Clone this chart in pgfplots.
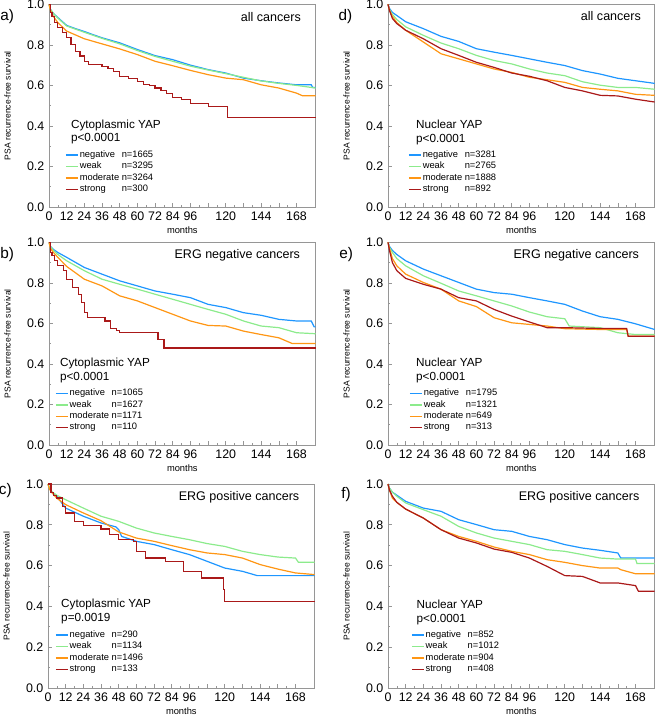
\documentclass[border=0pt]{standalone}
\usepackage{fontspec}
\setmainfont{Liberation Sans}
\usepackage{pgfplots}
\pgfplotsset{compat=1.18}
\definecolor{kmblue}{RGB}{30,150,255}
\definecolor{kmgreen}{RGB}{140,235,140}
\definecolor{kmorange}{RGB}{255,150,20}
\definecolor{kmred}{RGB}{170,25,25}
\definecolor{axgray}{RGB}{150,150,150}
\pgfplotsset{
  kmaxis/.style={
    scale only axis, width=200pt, height=152pt,
    xmin=0, xmax=181, ymin=0, ymax=1,
    axis line style={axgray, line width=0.6pt},
    xtick={0,12,...,168},
    xticklabels={0,12,24,36,48,60,72,84,96,,120,,144,,168},
    minor x tick num=1, minor y tick num=1,
    ytick={0,0.2,...,1.0},
    xtick pos=bottom, ytick pos=left,
    tick align=inside,
    major tick length=3pt, minor tick length=1.8pt,
    every tick/.style={axgray, line width=0.5pt},
    /pgf/number format/assume math mode=true,
    tick label style={font=\fontsize{9.3}{10}\selectfont, black},
    yticklabel style={/pgf/number format/.cd, fixed, fixed zerofill, precision=1},
    xlabel={months}, ylabel={PSA recurrence-free survival},
    xlabel style={at={(axis description cs:0.5,-0.115)}, anchor=center, font=\fontsize{7}{7}\selectfont},
    ylabel style={at={(axis description cs:-0.155,0.5)}, anchor=center, font=\fontsize{6.4}{7}\selectfont},
    clip=false,
    legend cell align=left,
    legend image code/.code={\draw[##1, line width=1pt] (0pt,0pt) -- (9pt,0pt);},
    legend style={draw=none, fill=none, inner sep=0pt, row sep=0.2pt, anchor=north west,
      font=\fontsize{7}{8}\selectfont, nodes={inner sep=0.9pt}},
    every axis plot/.append style={line width=0.9pt},
  },
}
\tikzset{
  lbl/.style={font=\fontsize{8.8}{10}\selectfont, align=left, anchor=west},
  grp/.style={font=\fontsize{9.4}{10}\selectfont, anchor=east},
  pan/.style={font=\fontsize{11.5}{12}\selectfont, anchor=center},
}
\newcommand{\lab}[2]{\makebox[31.5pt][l]{#1}#2}
\begin{document}
\begin{tikzpicture}
\path[use as bounding box] (0,0) rectangle (493.5pt,-536.25pt);
% ---------------- a
\begin{axis}[kmaxis, at={(36.75pt,-155.25pt)}, anchor=south west,
  legend style={at={(axis description cs:0.06,0.285)}}]
\addplot[kmblue] coordinates {(0,1)(1,0.975)(3,0.955)(6,0.935)(12,0.896)(18,0.88)(24,0.866)(30,0.85)(36,0.835)(48,0.81)(60,0.777)(72,0.747)(84,0.727)(96,0.70)(108,0.678)(120,0.661)(132,0.636)(144,0.623)(156,0.612)(168,0.603)(178,0.603)(179,0.59)(181,0.59)};
\addplot[kmgreen] coordinates {(0,1)(1,0.975)(3,0.955)(6,0.932)(12,0.893)(24,0.862)(36,0.832)(48,0.805)(60,0.772)(72,0.743)(84,0.719)(96,0.695)(108,0.676)(120,0.658)(132,0.64)(144,0.622)(156,0.61)(168,0.6)(181,0.587)};
\addplot[kmorange] coordinates {(0,1)(1,0.97)(3,0.94)(6,0.91)(12,0.868)(24,0.83)(36,0.805)(48,0.78)(60,0.752)(72,0.719)(84,0.697)(96,0.674)(108,0.653)(120,0.636)(132,0.628)(144,0.603)(156,0.587)(168,0.562)(172,0.549)(181,0.549)};
\addplot[kmred, const plot] coordinates {(0,1)(1,0.96)(2,0.94)(4,0.91)(6,0.884)(9,0.86)(12,0.835)(15,0.8)(18,0.769)(21,0.745)(24,0.719)(27,0.702)(36,0.694)(40,0.685)(44,0.67)(48,0.645)(54,0.633)(60,0.62)(64,0.605)(68,0.598)(72,0.587)(76,0.575)(80,0.562)(84,0.542)(90,0.529)(96,0.509)(108,0.496)(121,0.443)(181,0.443)};
\legend{\lab{negative}{n=1665},\lab{weak}{n=3295},\lab{moderate}{n=3264},\lab{strong}{n=300}}
\node[lbl] at (axis description cs:0.065,0.37) {Cytoplasmic YAP\\p<0.0001};
\node[grp] at (axis description cs:0.962,0.939) {all cancers};
\node[pan] at (axis description cs:-0.157,0.94) {a)};
\end{axis}
% ---------------- d
\begin{axis}[kmaxis, at={(291pt,-155.25pt)}, anchor=south west,
  legend style={at={(axis description cs:0.075,0.285)}}]
\addplot[kmblue] coordinates {(0,1)(1,0.98)(3,0.96)(6,0.945)(12,0.914)(24,0.88)(36,0.842)(48,0.817)(60,0.781)(72,0.764)(84,0.748)(96,0.731)(108,0.714)(120,0.698)(132,0.673)(144,0.656)(156,0.635)(168,0.623)(181,0.61)};
\addplot[kmgreen] coordinates {(0,1)(1,0.975)(3,0.95)(6,0.925)(12,0.889)(24,0.847)(36,0.809)(48,0.781)(60,0.748)(72,0.723)(84,0.706)(96,0.681)(108,0.661)(120,0.648)(132,0.618)(144,0.601)(156,0.59)(168,0.59)(181,0.581)};
\addplot[kmorange] coordinates {(0,1)(1,0.97)(3,0.94)(6,0.91)(12,0.872)(24,0.814)(36,0.756)(48,0.731)(60,0.706)(72,0.681)(84,0.664)(96,0.64)(108,0.628)(120,0.615)(132,0.59)(144,0.581)(156,0.573)(168,0.556)(181,0.551)};
\addplot[kmred] coordinates {(0,1)(1,0.97)(3,0.93)(6,0.905)(12,0.872)(24,0.83)(36,0.781)(48,0.748)(60,0.714)(72,0.689)(84,0.661)(96,0.645)(108,0.623)(120,0.59)(132,0.573)(144,0.551)(156,0.548)(168,0.532)(181,0.518)};
\legend{\lab{negative}{n=3281},\lab{weak}{n=2765},\lab{moderate}{n=1888},\lab{strong}{n=892}}
\node[lbl] at (axis description cs:0.088,0.367) {Nuclear YAP\\p<0.0001};
\node[grp] at (axis description cs:0.966,0.94) {all cancers};
\node[pan] at (axis description cs:-0.16,0.94) {d)};
\end{axis}
% ---------------- b
\begin{axis}[kmaxis, at={(36.75pt,-333.75pt)}, anchor=south west,
  legend style={at={(axis description cs:0.022,0.283)}}]
\addplot[kmblue] coordinates {(0,1)(1,0.98)(3,0.965)(6,0.95)(12,0.926)(24,0.876)(36,0.843)(48,0.81)(60,0.785)(72,0.76)(84,0.744)(96,0.727)(108,0.694)(120,0.678)(132,0.653)(144,0.64)(156,0.62)(168,0.612)(178,0.612)(180,0.583)(181,0.583)};
\addplot[kmgreen] coordinates {(0,1)(1,0.98)(3,0.96)(6,0.94)(12,0.909)(24,0.86)(36,0.818)(48,0.793)(60,0.769)(72,0.744)(84,0.719)(96,0.694)(108,0.669)(120,0.645)(132,0.612)(144,0.587)(156,0.579)(168,0.554)(181,0.549)};
\addplot[kmorange] coordinates {(0,1)(1,0.97)(3,0.95)(6,0.926)(12,0.881)(24,0.818)(36,0.785)(48,0.736)(60,0.711)(72,0.678)(84,0.645)(96,0.612)(108,0.59)(120,0.587)(132,0.562)(144,0.545)(156,0.529)(165,0.501)(181,0.501)};
\addplot[kmred, const plot] coordinates {(0,1)(1,0.95)(2,0.934)(4,0.91)(6,0.884)(10,0.86)(12,0.818)(16,0.777)(20,0.744)(22,0.702)(24,0.653)(26,0.628)(38,0.612)(42,0.574)(46,0.564)(48,0.554)(74,0.521)(78,0.479)(181,0.479)};
\legend{\lab{negative}{n=1065},\lab{weak}{n=1627},\lab{moderate}{n=1171},\lab{strong}{n=110}}
\node[lbl] at (axis description cs:0.024,0.367) {Cytoplasmic YAP\\p<0.0001};
\node[grp] at (axis description cs:0.959,0.934) {ERG negative cancers};
\node[pan] at (axis description cs:-0.157,0.94) {b)};
\end{axis}
% ---------------- e
\begin{axis}[kmaxis, at={(291pt,-333.75pt)}, anchor=south west,
  legend style={at={(axis description cs:0.079,0.283)}}]
\addplot[kmblue] coordinates {(0,1)(1,0.98)(3,0.96)(6,0.94)(12,0.909)(24,0.868)(36,0.835)(48,0.802)(60,0.769)(72,0.752)(84,0.744)(96,0.727)(108,0.711)(120,0.694)(132,0.661)(144,0.633)(156,0.62)(168,0.598)(181,0.57)};
\addplot[kmgreen] coordinates {(0,1)(1,0.975)(3,0.95)(6,0.92)(12,0.884)(24,0.835)(36,0.798)(48,0.76)(60,0.736)(72,0.711)(84,0.686)(96,0.656)(108,0.633)(120,0.623)(123,0.587)(144,0.579)(156,0.554)(168,0.545)(181,0.545)};
\addplot[kmorange] coordinates {(0,1)(1,0.97)(3,0.92)(6,0.884)(12,0.843)(24,0.802)(36,0.769)(48,0.711)(60,0.683)(72,0.628)(84,0.603)(96,0.595)(108,0.587)(120,0.574)(144,0.57)(162,0.57)(163,0.537)(181,0.537)};
\addplot[kmred] coordinates {(0,1)(1,0.96)(3,0.9)(6,0.86)(12,0.822)(24,0.793)(36,0.769)(48,0.727)(60,0.711)(72,0.669)(84,0.636)(96,0.607)(108,0.579)(120,0.579)(144,0.575)(162,0.575)(163,0.537)(181,0.537)};
\legend{\lab{negative}{n=1795},\lab{weak}{n=1321},\lab{moderate}{n=649},\lab{strong}{n=313}}
\node[lbl] at (axis description cs:0.088,0.367) {Nuclear YAP\\p<0.0001};
\node[grp] at (axis description cs:0.959,0.934) {ERG negative cancers};
\node[pan] at (axis description cs:-0.157,0.94) {e)};
\end{axis}
% ---------------- c
\begin{axis}[kmaxis, at={(36pt,-516pt)}, anchor=south west, height=153pt,
  legend style={at={(axis description cs:0.026,0.288)}}]
\addplot[kmblue] coordinates {(0,1)(1,0.98)(3,0.955)(6,0.94)(9,0.91)(12,0.882)(24,0.842)(36,0.809)(46,0.79)(48,0.776)(50,0.743)(60,0.719)(72,0.703)(84,0.678)(96,0.654)(108,0.621)(120,0.588)(132,0.572)(142,0.551)(181,0.551)};
\addplot[kmgreen] coordinates {(0,1)(1,0.98)(3,0.96)(6,0.945)(12,0.923)(24,0.882)(36,0.842)(48,0.817)(60,0.784)(72,0.76)(84,0.743)(96,0.727)(108,0.708)(120,0.694)(132,0.67)(144,0.654)(156,0.642)(168,0.637)(170,0.616)(181,0.616)};
\addplot[kmorange] coordinates {(0,1)(1,0.975)(3,0.955)(6,0.93)(12,0.899)(24,0.858)(36,0.82)(48,0.765)(60,0.735)(72,0.719)(84,0.698)(96,0.678)(108,0.662)(120,0.654)(132,0.637)(144,0.605)(156,0.583)(168,0.564)(181,0.556)};
\addplot[kmred, const plot] coordinates {(0,1)(2,0.96)(4,0.945)(6,0.931)(10,0.89)(12,0.858)(18,0.817)(24,0.796)(36,0.779)(42,0.752)(48,0.727)(58,0.72)(60,0.67)(66,0.637)(80,0.621)(92,0.572)(104,0.539)(119,0.482)(120,0.425)(181,0.425)};
\legend{\lab{negative}{n=290},\lab{weak}{n=1134},\lab{moderate}{n=1496},\lab{strong}{n=133}}
\node[lbl] at (axis description cs:0.032,0.376) {Cytoplasmic YAP\\p=0.0019};
\node[grp] at (axis description cs:0.96,0.935) {ERG positive cancers};
\node[pan] at (axis description cs:-0.16,0.97) {c)};
\end{axis}
% ---------------- f
\begin{axis}[kmaxis, at={(291pt,-516pt)}, anchor=south west, height=153pt,
  legend style={at={(axis description cs:0.086,0.288)}}]
\addplot[kmblue] coordinates {(0,1)(1,0.98)(3,0.96)(6,0.945)(12,0.915)(24,0.882)(36,0.866)(48,0.825)(60,0.801)(72,0.776)(84,0.768)(96,0.743)(108,0.727)(120,0.703)(132,0.686)(144,0.675)(156,0.662)(158,0.637)(181,0.637)};
\addplot[kmgreen] coordinates {(0,1)(1,0.98)(3,0.96)(6,0.94)(12,0.907)(24,0.874)(36,0.842)(48,0.792)(60,0.76)(72,0.735)(84,0.719)(96,0.703)(108,0.678)(120,0.67)(132,0.654)(144,0.637)(156,0.632)(168,0.632)(169,0.61)(181,0.61)};
\addplot[kmorange] coordinates {(0,1)(1,0.97)(3,0.93)(6,0.91)(12,0.877)(24,0.833)(36,0.776)(48,0.743)(60,0.719)(72,0.691)(84,0.67)(96,0.654)(108,0.629)(120,0.616)(132,0.6)(144,0.588)(156,0.588)(158,0.58)(168,0.56)(181,0.56)};
\addplot[kmred] coordinates {(0,1)(1,0.97)(3,0.94)(6,0.91)(12,0.877)(24,0.833)(36,0.776)(48,0.735)(60,0.711)(72,0.681)(84,0.665)(96,0.637)(108,0.596)(120,0.551)(132,0.547)(144,0.515)(156,0.515)(168,0.502)(170,0.474)(181,0.474)};
\legend{\lab{negative}{n=852},\lab{weak}{n=1012},\lab{moderate}{n=904},\lab{strong}{n=408}}
\node[lbl] at (axis description cs:0.09,0.37) {Nuclear YAP\\p<0.0001};
\node[grp] at (axis description cs:0.96,0.935) {ERG positive cancers};
\node[pan] at (axis description cs:-0.157,0.946) {f)};
\end{axis}
\end{tikzpicture}
\end{document}
